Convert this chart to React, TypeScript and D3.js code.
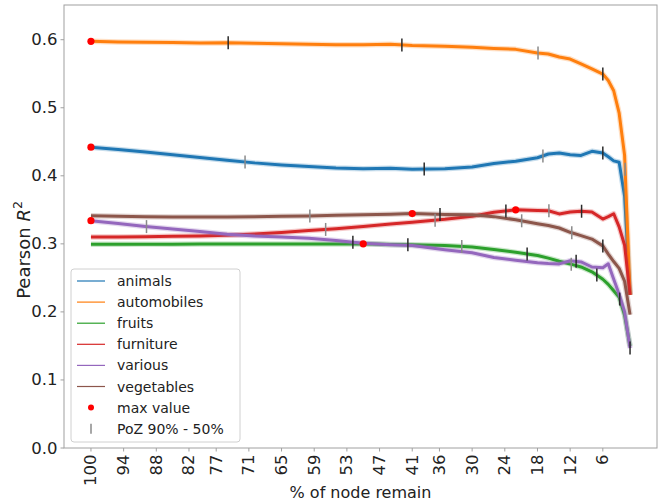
import React from 'react';
import * as d3 from 'd3';

// % of nodes remaining at each sampled step (shared by all series)
const percents = [100, 95, 90, 85, 80, 75, 70, 65, 60, 55, 50, 45, 41, 35, 30, 26, 22, 18, 16, 14, 12, 10, 8, 6, 5, 4, 3, 2, 1];

// Pearson R^2 per category
const animals = [0.442, 0.4385, 0.435, 0.431, 0.427, 0.423, 0.419, 0.416, 0.4135, 0.4115, 0.4105, 0.411, 0.4095, 0.4105, 0.413, 0.418, 0.4215, 0.4265, 0.432, 0.4335, 0.431, 0.43, 0.436, 0.4335, 0.428, 0.422, 0.42, 0.37, 0.225];
const automobiles = [0.5976, 0.5968, 0.5962, 0.5958, 0.5952, 0.5955, 0.5948, 0.5942, 0.5932, 0.5925, 0.5926, 0.5932, 0.5915, 0.5905, 0.5888, 0.5872, 0.5858, 0.5805, 0.579, 0.5745, 0.5716, 0.5645, 0.557, 0.5495, 0.54, 0.525, 0.492, 0.43, 0.225];
const fruits = [0.2995, 0.2995, 0.2996, 0.2996, 0.2997, 0.2997, 0.2998, 0.2998, 0.2999, 0.2999, 0.3001, 0.2992, 0.2986, 0.2975, 0.2955, 0.2918, 0.2875, 0.283, 0.279, 0.2745, 0.2705, 0.266, 0.259, 0.248, 0.2405, 0.231, 0.2215, 0.195, 0.15];
const furniture = [0.31, 0.31, 0.3105, 0.311, 0.3117, 0.3128, 0.3145, 0.3168, 0.3195, 0.3222, 0.3255, 0.329, 0.3318, 0.336, 0.3405, 0.3465, 0.35, 0.349, 0.3487, 0.344, 0.3468, 0.348, 0.3468, 0.3365, 0.34, 0.3443, 0.325, 0.298, 0.225];
const various = [0.334, 0.33, 0.3255, 0.3218, 0.318, 0.314, 0.3115, 0.31, 0.3083, 0.305, 0.3008, 0.2988, 0.2975, 0.2912, 0.2868, 0.28, 0.276, 0.2722, 0.271, 0.2705, 0.2752, 0.2735, 0.266, 0.265, 0.2708, 0.248, 0.226, 0.2, 0.147];
const vegetables = [0.3414, 0.3405, 0.34, 0.3396, 0.3395, 0.3395, 0.3398, 0.3404, 0.341, 0.342, 0.3428, 0.3435, 0.3445, 0.343, 0.3426, 0.34, 0.3355, 0.3296, 0.327, 0.3233, 0.317, 0.312, 0.307, 0.297, 0.285, 0.274, 0.264, 0.245, 0.196];

// PoZ 90% - 50% positions (% of nodes remaining) per category
const pozAnimals = [71.7, 38.8, 17.0, 6.0];
const pozAutomobiles = [74.8, 42.9, 17.9, 6.0, 1.9];
const pozFruits = [41.8, 31.9, 19.9, 11.8, 7.1, 2.9];
const pozFurniture = [56.9, 36.8, 23.8, 15.9, 9.9];
const pozVarious = [89.8, 51.9, 10.9, 1.0];
const pozVegetables = [59.8, 35.9, 20.9, 11.7, 6.0];

const seriesNames = ['animals', 'automobiles', 'fruits', 'furniture', 'various', 'vegetables'];
const xTickLabels = [100, 94, 88, 82, 77, 71, 65, 59, 53, 47, 41, 36, 30, 24, 18, 12, 6];
const yTickValues = [0, 0.1, 0.2, 0.3, 0.4, 0.5, 0.6];

const seriesValues = [animals, automobiles, fruits, furniture, various, vegetables];
const seriesPoz = [pozAnimals, pozAutomobiles, pozFruits, pozFurniture, pozVarious, pozVegetables];
// marker tone per PoZ marker (true = dark)
const pozTone = [
  [false, true, false, true],
  [true, true, false, true, false],
  [true, false, true, false, true, true],
  [false, false, true, false, true],
  [false, true, true, true],
  [false, true, false, false, true],
];

const FONT = 'DejaVu Sans, sans-serif';
const W = 661;
const H = 502;
const L = 64, R = 657, T = 5, B = 448;

export default function App() {
  const x = d3.scaleLinear().domain([104.95, -3.95]).range([L, R]);
  const y = d3.scaleLinear().domain([0, 0.651]).range([B, T]);
  const colors = d3.schemeCategory10.slice(0, 6);

  const line = d3.line<[number, number]>()
    .x((d) => x(d[0]))
    .y((d) => y(d[1]));

  const legendRows = 8;
  const legendX = 71, legendY = 269, legendW = 169, legendH = 173;
  const rowY = (i: number) => 281 + i * 21.1;

  return (
    <div style={{ position: 'absolute', left: 0, top: 0 }}>
      <svg width={W} height={H} style={{ display: 'block', background: '#fff' }} fontFamily={FONT}>
        <rect x={0} y={0} width={W} height={H} fill="#fff" />
        {/* series lines */}
        {seriesValues.map((vals, si) => {
          const pts = percents.map((p, i) => [p, vals[i]] as [number, number]);
          const d = line(pts) || '';
          return (
            <g key={seriesNames[si]}>
              <path d={d} fill="none" stroke={colors[si]} strokeOpacity={0.25} strokeWidth={5.5} strokeLinejoin="round" />
              <path d={d} fill="none" stroke={colors[si]} strokeWidth={3} strokeLinejoin="round" strokeLinecap="butt" />
            </g>
          );
        })}
        {/* PoZ markers */}
        {seriesValues.map((vals, si) => {
          const interp = d3.scaleLinear().domain(percents).range(vals);
          return seriesPoz[si].map((p, k) => {
            const cx = x(p);
            const cy = y(interp(p));
            const dark = pozTone[si][k];
            return (
              <line key={`${si}-${k}`} x1={cx} x2={cx} y1={cy - 6.5} y2={cy + 6.5}
                stroke={dark ? '#2a2a2a' : '#8a8a8a'} strokeWidth={1.5} />
            );
          });
        })}
        {/* max value dots */}
        {seriesValues.map((vals, si) => {
          const idx = d3.maxIndex(vals);
          return <circle key={`m${si}`} cx={x(percents[idx])} cy={y(vals[idx])} r={3.6} fill="#ff0000" />;
        })}
        {/* axes frame */}
        <rect x={L} y={T} width={R - L} height={B - T} fill="none" stroke="#a0a0a0" strokeWidth={1} />
        {/* y ticks */}
        {yTickValues.map((v) => (
          <g key={`y${v}`}>
            <line x1={L - 3.5} x2={L} y1={y(v)} y2={y(v)} stroke="#a0a0a0" />
            <text x={L - 6.5} y={y(v)} textAnchor="end" dominantBaseline="central" fontSize={16.5} fill="#222">
              {v.toFixed(1)}
            </text>
          </g>
        ))}
        {/* x ticks */}
        {xTickLabels.map((v) => (
          <g key={`x${v}`}>
            <line x1={x(v)} x2={x(v)} y1={B} y2={B + 3.5} stroke="#a0a0a0" />
            <text transform={`translate(${x(v)},${B + 6.5}) rotate(-90)`} textAnchor="end"
              dominantBaseline="central" fontSize={16.5} fill="#222">
              {v}
            </text>
          </g>
        ))}
        {/* axis labels */}
        <text x={(L + R) / 2} y={498} textAnchor="middle" fontSize={16} fill="#222">% of node remain</text>
        <text transform={`translate(30,250) rotate(-90)`} textAnchor="middle" fontSize={18} fill="#222">
          Pearson <tspan fontStyle="italic">R</tspan><tspan fontSize={12.5} dy={-8}>2</tspan>
        </text>
        {/* legend */}
        <rect x={legendX} y={legendY} width={legendW} height={legendH} rx={3} fill="#fff" fillOpacity={0.8} stroke="#d0d0d0" />
        {seriesNames.map((n, i) => (
          <g key={`l${n}`}>
            <line x1={77} x2={105} y1={rowY(i)} y2={rowY(i)} stroke={colors[i]} strokeWidth={1.2} />
            <text x={117} y={rowY(i)} dominantBaseline="central" fontSize={14} fill="#222">{n}</text>
          </g>
        ))}
        <circle cx={91} cy={rowY(6)} r={3} fill="#ff0000" />
        <text x={117} y={rowY(6)} dominantBaseline="central" fontSize={14} fill="#222">max value</text>
        <line x1={91} x2={91} y1={rowY(7) - 5} y2={rowY(7) + 5} stroke="#8a8a8a" strokeWidth={1.5} />
        <text x={117} y={rowY(legendRows - 1)} dominantBaseline="central" fontSize={14} fill="#222">PoZ 90% - 50%</text>
      </svg>
    </div>
  );
}
